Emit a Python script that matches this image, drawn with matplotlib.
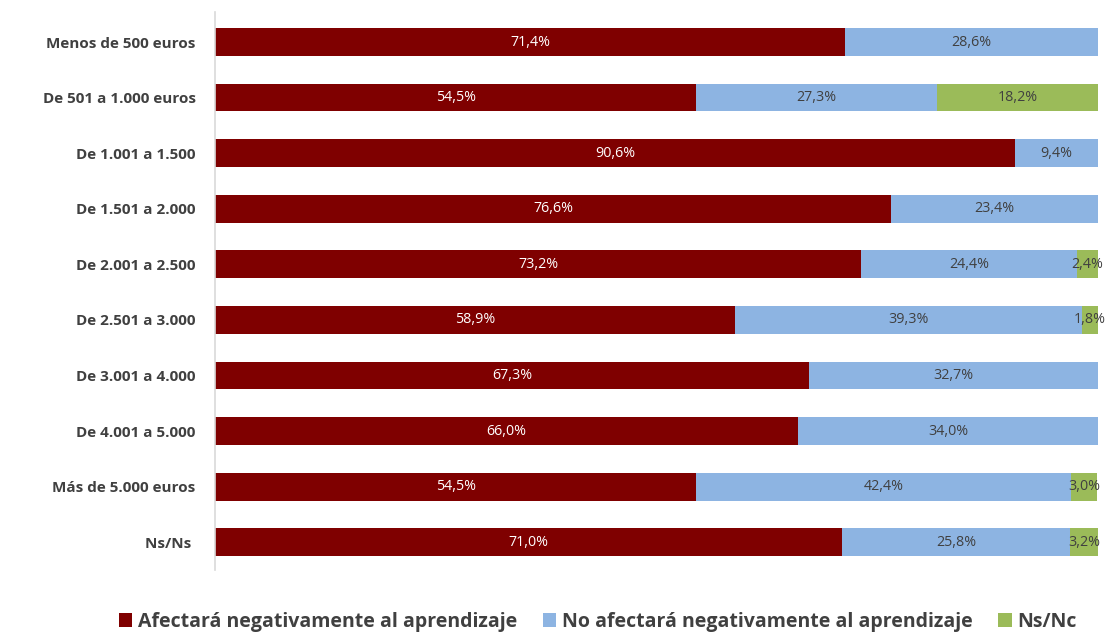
import matplotlib.pyplot as plt
import numpy as np

categories = ["Menos de 500 euros", "De 501 a 1.000 euros", "De 1.001 a 1.500",
              "De 1.501 a 2.000", "De 2.001 a 2.500", "De 2.501 a 3.000",
              "De 3.001 a 4.000", "De 4.001 a 5.000", "Más de 5.000 euros", "Ns/Ns "]
afectara = [71.4, 54.5, 90.6, 76.6, 73.2, 58.9, 67.3, 66.0, 54.5, 71.0]
no_afectara = [28.6, 27.3, 9.4, 23.4, 24.4, 39.3, 32.7, 34.0, 42.4, 25.8]
nsnc = [0, 18.2, 0, 0, 2.4, 1.8, 0, 0, 3.0, 3.2]
series_names = ["Afectará negativamente al aprendizaje",
                "No afectará negativamente al aprendizaje", "Ns/Nc"]

plt.rcParams['font.family'] = ['Open Sans', 'DejaVu Sans']
colors = ["#7F0000", "#8DB4E2", "#9BBB59"]
text_colors = ["white", "#404040", "#404040"]

fig = plt.figure(figsize=(11.07, 6.34), dpi=100)
ax = fig.add_axes([215/1107, 1-570/634, (1098-215)/1107, (570-12)/634])

y = np.arange(len(categories))
left = np.zeros(len(categories))
for vals, c, tc, name in zip([afectara, no_afectara, nsnc], colors, text_colors, series_names):
    vals = np.array(vals)
    ax.barh(y, vals, left=left, height=0.5, color=c, label=name)
    for yi, l, v in zip(y, left, vals):
        if v > 0:
            ax.text(l + v/2, yi, f"{v:.1f}%".replace('.', ','), ha='center', va='center',
                    color=tc, fontsize=10.3)
    left += vals

ax.set_xlim(0, 100)
ax.set_ylim(9.5, -0.54)
ax.set_yticks(y)
ax.set_yticklabels(categories, fontsize=11, fontweight='bold', color='#404040')
ax.tick_params(axis='y', length=0, pad=14)
ax.set_xticks([])
for s in ['top', 'right', 'bottom']:
    ax.spines[s].set_visible(False)
ax.spines['left'].set_color('#D9D9D9')
ax.spines['left'].set_linewidth(1.2)

leg = fig.legend(loc='center', bbox_to_anchor=(0.54, 1-622/634), ncol=3, frameon=False,
                 prop={'weight': 'bold', 'size': 14}, handlelength=0.7, handleheight=0.7,
                 handletextpad=0.3, columnspacing=1.3, labelcolor='#404040')

fig.savefig("out.png", dpi=100)
